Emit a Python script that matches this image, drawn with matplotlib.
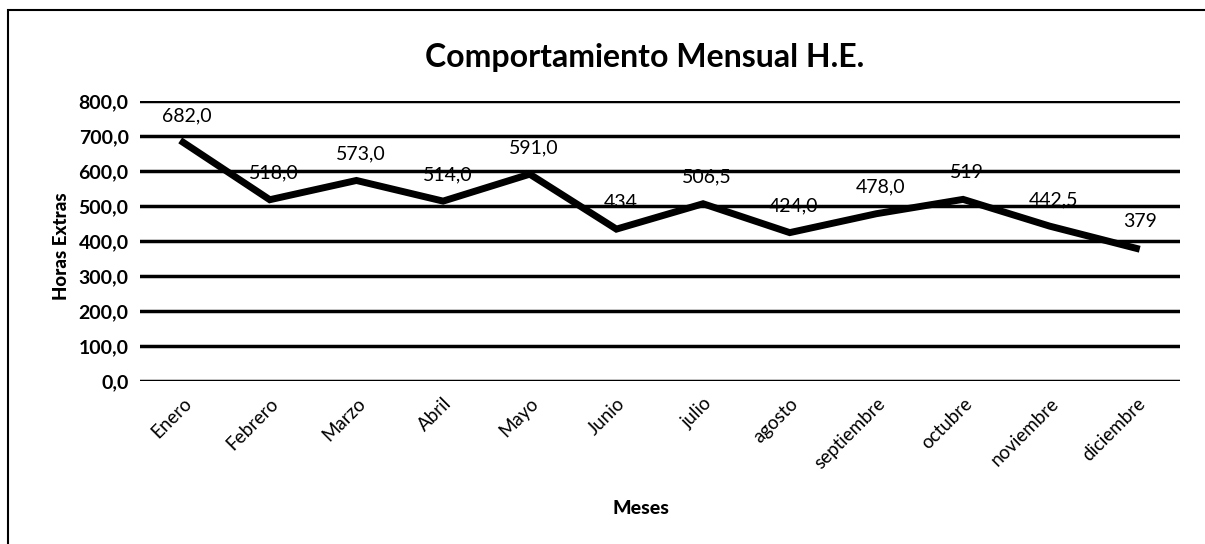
import matplotlib

matplotlib.use("Agg")
import matplotlib.pyplot as plt
import matplotlib.transforms as mtransforms
from matplotlib.patches import Rectangle

MESES = ["Enero", "Febrero", "Marzo", "Abril", "Mayo", "Junio", "julio",
         "agosto", "septiembre", "octubre", "noviembre", "diciembre"]
HORAS = [682.0, 518.0, 573.0, 514.0, 591.0, 434.0, 506.5, 424.0, 478.0,
         519.0, 442.5, 379.0]
ETIQUETAS = ["682,0", "518,0", "573,0", "514,0", "591,0", "434", "506,5",
             "424,0", "478,0", "519", "442,5", "379"]
Y_TICKS = [0, 100, 200, 300, 400, 500, 600, 700, 800]

plt.rcParams["font.family"] = ["Lato", "DejaVu Sans"]

fig = plt.figure(figsize=(12.05, 5.44), dpi=100)
ax = fig.add_axes([0.116, 0.2996, 0.863, 0.5147])

# frame around the whole chart
fig.patches.append(Rectangle((8 / 1205, -0.05), 1.2, 1 - 10 / 544 + 0.05,
                             transform=fig.transFigure, fill=False,
                             edgecolor="black", linewidth=1.5))

x = list(range(len(MESES)))
for y in Y_TICKS:
    ax.axhline(y, color="black", linewidth=2.5, zorder=1)
ax.plot(x, HORAS, color="black", linewidth=5, solid_joinstyle="miter", zorder=3)

for xi, yi, lbl in zip(x, HORAS, ETIQUETAS):
    ax.annotate(lbl, xy=(xi, yi), xytext=(3, 13), textcoords="offset points",
                ha="center", va="bottom", fontsize=14, color="black", zorder=4)

ax.set_xlim(-0.5, len(MESES) - 0.5)
ax.set_ylim(0, 800)
ax.set_yticks(Y_TICKS)
ax.set_yticklabels([f"{v:.1f}".replace(".", ",") for v in Y_TICKS],
                   fontsize=14, fontweight="bold")
ax.set_xticks(x)
ax.set_xticklabels(MESES, rotation=45, ha="right", rotation_mode="anchor",
                   fontsize=13.5)
offset = mtransforms.ScaledTranslation(0.17, 0.0, fig.dpi_scale_trans)
for t in ax.get_xticklabels():
    t.set_transform(t.get_transform() + offset)

ax.tick_params(axis="x", length=0, pad=10)
ax.tick_params(axis="y", length=0, pad=8)
for s in ax.spines.values():
    s.set_visible(False)

ax.set_ylabel("Horas Extras", fontsize=13.5, fontweight="black")
ax.yaxis.set_label_coords(-0.067, 0.48)
fig.text(0.532, 0.066, "Meses", ha="center", va="center",
         fontsize=14, fontweight="black")
fig.text(0.535, 0.895, "Comportamiento Mensual H.E.", ha="center",
         va="center", fontsize=23, fontweight="bold")

fig.savefig("out.png", dpi=100)
